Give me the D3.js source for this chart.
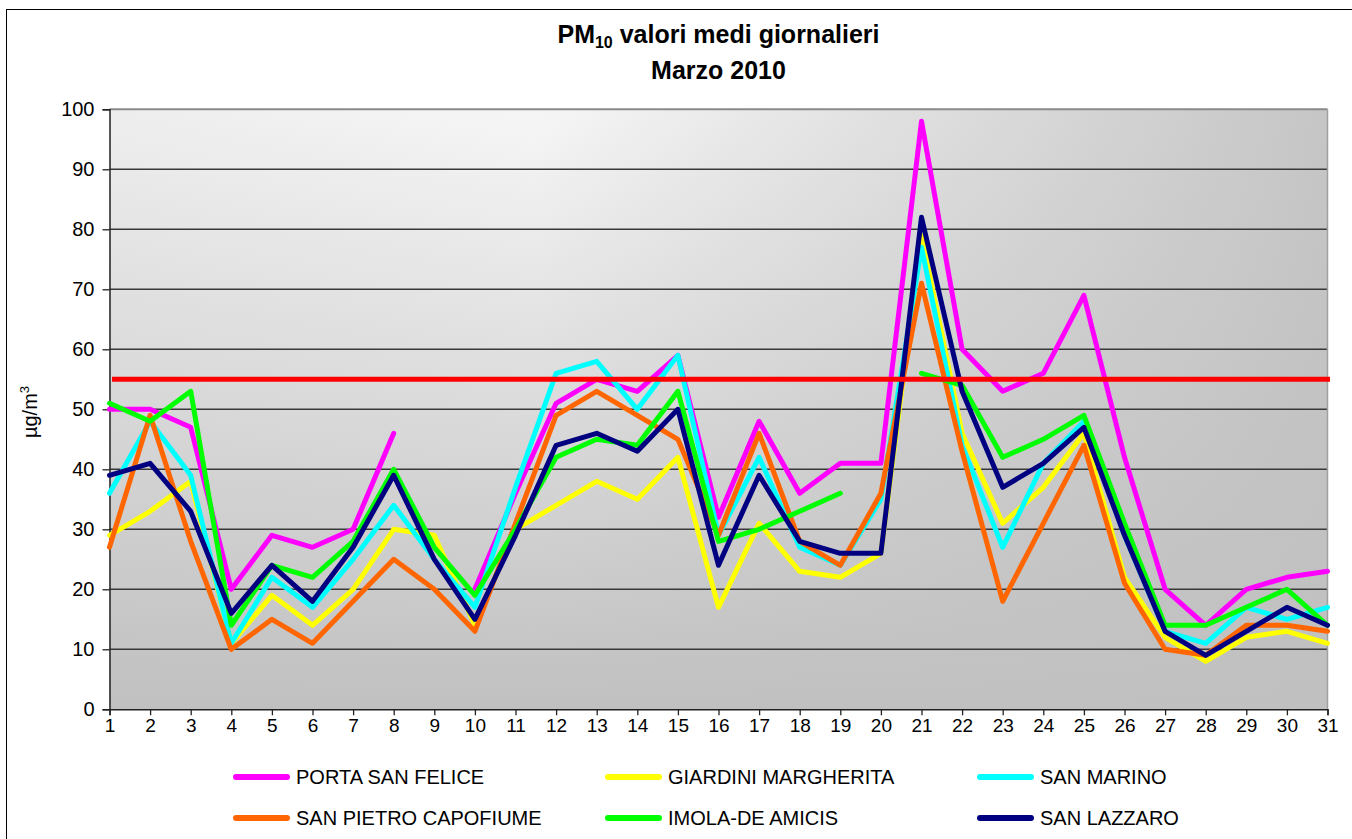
<!DOCTYPE html>
<html>
<head>
<meta charset="utf-8">
<script src="https://cdn.jsdelivr.net/npm/d3@7"></script>
<style>
  body { margin: 0; background: #fff; }
  svg { display: block; font-family: Arial, "Liberation Sans", sans-serif; }
</style>
</head>
<body>
<svg id="chart" width="1352" height="839"></svg>
<script>
// giorni del mese
const days = d3.range(1, 32);
const yTicks = [0, 10, 20, 30, 40, 50, 60, 70, 80, 90, 100];

// valori medi giornalieri PM10 (µg/m3), null = dato mancante
const portaSanFelice = [50, 50, 47, 20, 29, 27, 30, 46, null, 20, 36, 51, 55, 53, 59, 32, 48, 36, 41, 41, 98, 60, 53, 56, 69, 42, 20, 14, 20, 22, 23];
const giardiniMargherita = [29, 33, 38, 11, 19, 14, 20, 30, 29, 14, 30, 34, 38, 35, 42, 17, 31, 23, 22, 26, 79, 46, 31, 37, 46, 22, 12, 8, 12, 13, 11];
const sanMarino = [36, 48, 39, 11, 22, 17, 25, 34, 25, 17, 37, 56, 58, 50, 59, 29, 42, 27, 24, 35, 77, 44, 27, 41, 48, 29, 13, 11, 17, 15, 17];
const sanPietroCapofiume = [27, 49, 28, 10, 15, 11, 18, 25, 20, 13, 31, 49, 53, 49, 45, 29, 46, 28, 24, 36, 71, 43, 18, 31, 44, 21, 10, 9, 14, 14, 13];
const imolaDeAmicis = [51, 48, 53, 14, 24, 22, 28, 40, 27, 19, 30, 42, 45, 44, 53, 28, 30, 33, 36, null, 56, 54, 42, 45, 49, 31, 14, 14, 17, 20, 14];
const sanLazzaro = [39, 41, 33, 16, 24, 18, 27, 39, 25, 15, 29, 44, 46, 43, 50, 24, 39, 28, 26, 26, 82, 53, 37, 41, 47, 29, 13, 9, 13, 17, 14];

// valore limite
const limit = 55;

const seriesNames = ["PORTA SAN FELICE", "GIARDINI MARGHERITA", "SAN MARINO", "SAN PIETRO CAPOFIUME", "IMOLA-DE AMICIS", "SAN LAZZARO"];
const seriesColors = ["#ff00ff", "#ffff00", "#00ffff", "#ff6600", "#00ff00", "#000080"];
const seriesValues = [portaSanFelice, giardiniMargherita, sanMarino, sanPietroCapofiume, imolaDeAmicis, sanLazzaro];

const svg = d3.select("#chart");

// area del grafico
const plotLeft = 109.5, plotRight = 1327.5, plotTop = 109.3, plotBottom = 709.3;

const x = d3.scalePoint().domain(days).range([plotLeft, plotRight]);
const y = d3.scaleLinear().domain([0, 100]).range([plotBottom, plotTop]);

// bordo esterno
svg.append("rect")
  .attr("x", 6.5).attr("y", 9.5)
  .attr("width", 1400).attr("height", 900)
  .attr("fill", "#fff").attr("stroke", "#000").attr("stroke-width", 1);

// sfondo sfumato
const defs = svg.append("defs");
const gv = defs.append("linearGradient").attr("id", "gv")
  .attr("x1", "0").attr("y1", "0").attr("x2", "0").attr("y2", "1");
gv.append("stop").attr("offset", "0%").attr("stop-color", "#f6f6f6");
gv.append("stop").attr("offset", "100%").attr("stop-color", "#c0c0c0");

const gh = defs.append("linearGradient").attr("id", "gh")
  .attr("x1", "0").attr("y1", "0").attr("x2", "1").attr("y2", "0");
gh.append("stop").attr("offset", "0%").attr("stop-color", "#c0c0c0").attr("stop-opacity", 0.15);
gh.append("stop").attr("offset", "35%").attr("stop-color", "#c0c0c0").attr("stop-opacity", 0);
gh.append("stop").attr("offset", "100%").attr("stop-color", "#c0c0c0").attr("stop-opacity", 0.9);

svg.append("rect")
  .attr("x", plotLeft).attr("y", plotTop)
  .attr("width", plotRight - plotLeft).attr("height", plotBottom - plotTop)
  .attr("fill", "url(#gv)");
svg.append("rect")
  .attr("x", plotLeft).attr("y", plotTop)
  .attr("width", plotRight - plotLeft).attr("height", plotBottom - plotTop)
  .attr("fill", "url(#gh)");

// griglia
svg.append("g")
  .selectAll("line")
  .data(yTicks.filter(d => d > 0))
  .enter()
  .append("line")
  .attr("x1", plotLeft).attr("x2", plotRight)
  .attr("y1", d => y(d)).attr("y2", d => y(d))
  .attr("stroke", d => d === 100 ? "#8a8a8a" : "#383838")
  .attr("stroke-width", d => d === 100 ? 2 : 1.5);

// bordo destro area
svg.append("line")
  .attr("x1", plotRight).attr("x2", plotRight)
  .attr("y1", plotTop).attr("y2", plotBottom)
  .attr("stroke", "#a0a0a0").attr("stroke-width", 1.5);

// assi
const yAxis = d3.axisLeft(y).tickValues(yTicks).tickSize(7).tickPadding(8);
const gy = svg.append("g").attr("transform", `translate(${plotLeft},0)`).call(yAxis);
gy.select(".domain").attr("stroke", "#222").attr("stroke-width", 1.5);
gy.selectAll(".tick line").attr("stroke", "#222").attr("stroke-width", 1.3);
gy.selectAll("text").style("font-size", "20px").attr("fill", "#000");

const xAxis = d3.axisBottom(x).tickSize(6).tickPadding(3);
const gx = svg.append("g").attr("transform", `translate(0,${plotBottom})`).call(xAxis);
gx.select(".domain").attr("stroke", "#222").attr("stroke-width", 1.5);
gx.selectAll(".tick line").attr("stroke", "#222").attr("stroke-width", 1.3);
gx.selectAll("text").style("font-size", "19px").attr("fill", "#000");

// linee delle stazioni
const line = d3.line()
  .defined(d => d[1] != null)
  .x(d => x(d[0]))
  .y(d => y(d[1]));

seriesValues.forEach((vals, i) => {
  svg.append("path")
    .datum(days.map((d, j) => [d, vals[j]]))
    .attr("d", line)
    .attr("fill", "none")
    .attr("stroke", seriesColors[i])
    .attr("stroke-width", 5)
    .attr("stroke-linejoin", "round")
    .attr("stroke-linecap", "round");
});

// linea del valore limite
svg.append("path")
  .datum(days.map(d => [d, limit]))
  .attr("d", line)
  .attr("transform", "translate(2.5,0)")
  .attr("fill", "none")
  .attr("stroke", "#ff0000")
  .attr("stroke-width", 5);

// titolo
const cx = (plotLeft + plotRight) / 2;
const title = svg.append("text")
  .attr("x", cx).attr("y", 43)
  .attr("text-anchor", "middle")
  .style("font-size", "25px").style("font-weight", "bold");
title.append("tspan").text("PM");
title.append("tspan").text("10").style("font-size", "16px").attr("dy", 5);
title.append("tspan").text(" valori medi giornalieri").attr("dy", -5);

svg.append("text")
  .attr("x", cx).attr("y", 79)
  .attr("text-anchor", "middle")
  .style("font-size", "25px").style("font-weight", "bold")
  .text("Marzo 2010");

// etichetta asse y
const ylab = svg.append("text")
  .attr("transform", `translate(37,412) rotate(-90)`)
  .attr("text-anchor", "middle")
  .style("font-size", "20px");
ylab.append("tspan").text("µg/m");
ylab.append("tspan").text("3").style("font-size", "13px").attr("dy", -8);

// legenda
const legendX = [233, 605, 977];
const legendY = [777, 818];
const legend = svg.append("g")
  .selectAll("g")
  .data(seriesNames)
  .enter()
  .append("g")
  .attr("transform", (d, i) => `translate(${legendX[i % 3]},${legendY[Math.floor(i / 3)]})`);

legend.append("line")
  .attr("x1", 3).attr("x2", 54)
  .attr("y1", 0).attr("y2", 0)
  .attr("stroke", (d, i) => seriesColors[i])
  .attr("stroke-width", 6)
  .attr("stroke-linecap", "round");

legend.append("text")
  .attr("x", 63).attr("y", 0)
  .attr("dy", "0.36em")
  .style("font-size", "20px")
  .text(d => d);
</script>
</body>
</html>
